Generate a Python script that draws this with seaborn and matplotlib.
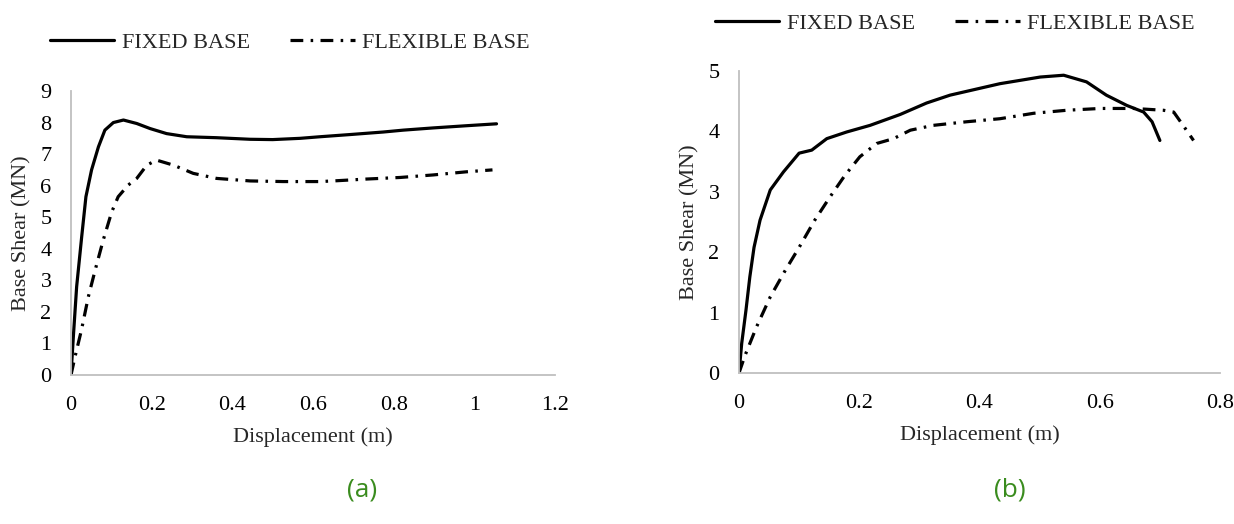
import matplotlib
matplotlib.use("Agg")
import matplotlib.pyplot as plt
import seaborn as sns
import pandas as pd

# ---- data (a) ----
a_fixed_x = [0, 0.0058, 0.014, 0.0265, 0.037, 0.051, 0.068, 0.084, 0.105, 0.13, 0.163, 0.196,
             0.237, 0.287, 0.361, 0.444, 0.50, 0.568, 0.617, 0.692, 0.774, 0.824, 0.898, 0.981, 1.055]
a_fixed_y = [0, 1.21, 2.8, 4.38, 5.65, 6.5, 7.23, 7.76, 8.0, 8.08, 7.97, 7.81,
             7.65, 7.55, 7.52, 7.47, 7.46, 7.5, 7.55, 7.62, 7.7, 7.76, 7.83, 7.9, 7.96]
a_flex_x = [0, 0.01, 0.026, 0.043, 0.06, 0.08, 0.101, 0.117, 0.142, 0.163, 0.188, 0.212,
            0.254, 0.303, 0.361, 0.444, 0.526, 0.617, 0.65, 0.733, 0.816, 0.898, 0.981, 1.045]
a_flex_y = [0, 0.58, 1.43, 2.48, 3.33, 4.28, 5.17, 5.65, 6.02, 6.23, 6.65, 6.81,
            6.65, 6.39, 6.23, 6.15, 6.13, 6.13, 6.15, 6.21, 6.26, 6.34, 6.44, 6.5]

# ---- data (b) ----
b_fixed_x = [0, 0.0045, 0.0116, 0.018, 0.025, 0.035, 0.052, 0.074, 0.10, 0.121, 0.146, 0.179,
             0.218, 0.268, 0.312, 0.351, 0.434, 0.501, 0.54, 0.578, 0.611, 0.645, 0.673, 0.687, 0.70]
b_fixed_y = [0, 0.49, 1.04, 1.59, 2.08, 2.53, 3.03, 3.33, 3.64, 3.69, 3.88, 3.99,
             4.10, 4.28, 4.47, 4.60, 4.79, 4.90, 4.93, 4.82, 4.60, 4.43, 4.32, 4.16, 3.85]
b_flex_x = [0, 0.01, 0.029, 0.052, 0.077, 0.10, 0.126, 0.151, 0.176, 0.201, 0.229, 0.257,
            0.285, 0.323, 0.379, 0.434, 0.49, 0.545, 0.601, 0.656, 0.706, 0.723, 0.74, 0.756]
b_flex_y = [0, 0.29, 0.76, 1.26, 1.70, 2.08, 2.53, 2.91, 3.27, 3.58, 3.80, 3.88,
            4.02, 4.10, 4.16, 4.21, 4.30, 4.35, 4.38, 4.38, 4.35, 4.32, 4.08, 3.85]

series_names = ["FIXED BASE", "FLEXIBLE BASE"]
a_xticks = [0, 0.2, 0.4, 0.6, 0.8, 1, 1.2]
a_xticklabels = ["0", "0.2", "0.4", "0.6", "0.8", "1", "1.2"]
a_yticks = list(range(0, 10))
b_xticks = [0, 0.2, 0.4, 0.6, 0.8]
b_xticklabels = ["0", "0.2", "0.4", "0.6", "0.8"]
b_yticks = list(range(0, 6))
xlabel = "Displacement (m)"
ylabel = "Base Shear (MN)"
panel_labels = ["(a)", "(b)"]

sns.set_style("white")
plt.rcParams["font.family"] = ["Liberation Serif", "DejaVu Serif"]

fig = plt.figure(figsize=(12.34, 5.24), dpi=100)
axA = fig.add_axes([71/1234, 1-375/524, 484/1234, 284/524])
axB = fig.add_axes([739/1234, 1-373/524, 481/1234, 302/524])

FS = 16
dash = (4, 2.3, 0.8, 2.3)


def make_df(fx, fy, ex, ey):
    d1 = pd.DataFrame({"x": fx, "y": fy, "s": series_names[0], "o": range(len(fx))})
    d2 = pd.DataFrame({"x": ex, "y": ey, "s": series_names[1], "o": range(len(ex))})
    return pd.concat([d1, d2], ignore_index=True)


def draw(ax, df, xticks, xtl, yticks, xlim, ylim, legend_xy):
    sns.lineplot(data=df, x="x", y="y", style="s", hue="s", sort=False, estimator=None,
                 palette={series_names[0]: "black", series_names[1]: "black"},
                 dashes={series_names[0]: "", series_names[1]: dash},
                 linewidth=2.3, ax=ax, legend=True)
    ax.set_xlim(*xlim)
    ax.set_ylim(*ylim)
    ax.set_xticks(xticks)
    ax.set_xticklabels(xtl)
    ax.set_yticks(yticks)
    ax.set_yticklabels([str(v) for v in yticks])
    ax.tick_params(axis="both", length=0, labelsize=FS, colors="black")
    ax.tick_params(axis="y", pad=14)
    ax.tick_params(axis="x", pad=15)
    for s in ["top", "right"]:
        ax.spines[s].set_visible(False)
    for s in ["left", "bottom"]:
        ax.spines[s].set_color("#bfbfbf")
        ax.spines[s].set_linewidth(1.3)
    ax.set_xlabel(xlabel, fontsize=FS)
    ax.set_ylabel(ylabel, fontsize=FS)
    h, l = ax.get_legend_handles_labels()
    ax.legend(h, l, ncol=2, frameon=False, fontsize=FS, handlelength=2.9,
              handletextpad=0.35, columnspacing=1.8, loc="center",
              bbox_to_anchor=legend_xy, bbox_transform=fig.transFigure,
              borderaxespad=0, borderpad=0)


draw(axA, make_df(a_fixed_x, a_fixed_y, a_flex_x, a_flex_y), a_xticks, a_xticklabels,
     a_yticks, (0, 1.2), (0, 9), (290/1234, 1-43/524))
draw(axB, make_df(b_fixed_x, b_fixed_y, b_flex_x, b_flex_y), b_xticks, b_xticklabels,
     b_yticks, (0, 0.8), (0, 5), (955/1234, 1-24/524))

# label positions
axA.yaxis.set_label_coords((22-71)/484, 0.5)
axA.yaxis.label.set_va("center")
axA.xaxis.set_label_coords((313-71)/484, (375-437)/284)
axA.xaxis.label.set_va("center")
axB.yaxis.set_label_coords((690-739)/481, 0.5)
axB.yaxis.label.set_va("center")
axB.xaxis.set_label_coords((980-739)/481, (373-435)/302)
axB.xaxis.label.set_va("center")

green = "#3a8c1e"
fig.text(362/1234, 1-490/524, panel_labels[0], color=green, fontsize=19,
         family=["Open Sans", "DejaVu Sans"], ha="center", va="center")
fig.text(1010/1234, 1-490/524, panel_labels[1], color=green, fontsize=19,
         family=["Open Sans", "DejaVu Sans"], ha="center", va="center")

fig.savefig("out.png", dpi=100, facecolor="white")
